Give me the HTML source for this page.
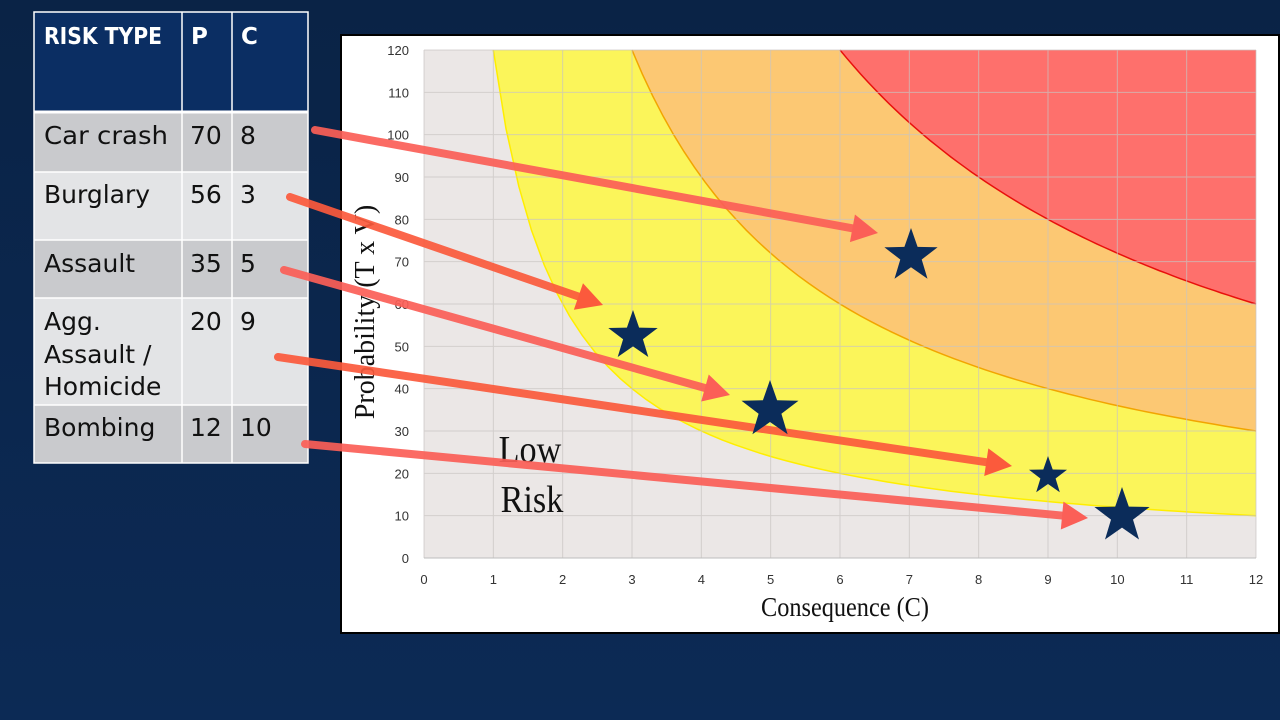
<!DOCTYPE html>
<html><head><meta charset="utf-8"><style>
html,body{margin:0;padding:0;width:1280px;height:720px;overflow:hidden;background:linear-gradient(180deg,#0a2346,#0c2a55);}
svg{display:block}
</style></head><body>
<svg id="s" width="1280" height="720" xmlns="http://www.w3.org/2000/svg">
<rect x="341" y="35" width="938" height="598" fill="#fff" stroke="#000" stroke-width="2"/>
<rect x="424" y="50" width="832" height="508" fill="#ebe7e6"/>
<g id="fills"></g>
<g id="grid" stroke="#c8c4c2" stroke-width="1" opacity="0.7"></g>
<line x1="424" y1="558" x2="1256" y2="558" stroke="#bdbdbd"/>
<g id="ticks" font-family="Liberation Sans, sans-serif" font-size="13" fill="#333"></g>
<text x="530" y="462" font-family="Liberation Serif, serif" font-size="38" fill="#111" text-anchor="middle" transform="translate(530,0) scale(0.9,1) translate(-530,0)">Low</text>
<text x="532" y="512" font-family="Liberation Serif, serif" font-size="38" fill="#111" text-anchor="middle" transform="translate(532,0) scale(0.9,1) translate(-532,0)">Risk</text>
<text x="845" y="616" font-family="Liberation Serif, serif" font-size="27" fill="#111" text-anchor="middle" transform="translate(845,0) scale(0.9,1) translate(-845,0)">Consequence (C)</text>
<text transform="translate(374,312) rotate(-90)" font-family="Liberation Serif, serif" font-size="28" fill="#111" text-anchor="middle">Probability (T x V)</text>

<g font-family="DejaVu Sans, sans-serif" font-size="25">
<rect x="34" y="12" width="274" height="100" fill="#0b2e63"/>
<rect x="34" y="112" width="274" height="60" fill="#c9cacd"/>
<rect x="34" y="172" width="274" height="68" fill="#e3e4e6"/>
<rect x="34" y="240" width="274" height="58" fill="#c9cacd"/>
<rect x="34" y="298" width="274" height="107" fill="#e3e4e6"/>
<rect x="34" y="405" width="274" height="58" fill="#c9cacd"/>
<g stroke="#fff" stroke-width="1.5" fill="none">
<rect x="34" y="12" width="274" height="451"/>
<line x1="182" y1="12" x2="182" y2="463"/><line x1="232" y1="12" x2="232" y2="463"/>
<line x1="34" y1="112" x2="308" y2="112" stroke-width="3"/>
<line x1="34" y1="172" x2="308" y2="172"/><line x1="34" y1="240" x2="308" y2="240"/>
<line x1="34" y1="298" x2="308" y2="298"/><line x1="34" y1="405" x2="308" y2="405"/>
</g>
<g fill="#fff" font-weight="bold" font-size="23"><text x="44" y="44" textLength="118" lengthAdjust="spacingAndGlyphs">RISK TYPE</text><text x="191" y="44">P</text><text x="241" y="44">C</text></g>
<g fill="#111">
<text x="44" y="144" textLength="124" lengthAdjust="spacingAndGlyphs">Car crash</text><text x="190" y="144">70</text><text x="240" y="144">8</text>
<text x="44" y="203">Burglary</text><text x="190" y="203">56</text><text x="240" y="203">3</text>
<text x="44" y="272">Assault</text><text x="190" y="272">35</text><text x="240" y="272">5</text>
<text x="44" y="330">Agg.</text><text x="44" y="363">Assault /</text><text x="44" y="395">Homicide</text>
<text x="190" y="330">20</text><text x="240" y="330">9</text>
<text x="44" y="436">Bombing</text><text x="190" y="436">12</text><text x="240" y="436">10</text>
</g></g>
<g id="arrows"></g>
<g id="stars" fill="#0b2c5a"></g>
</svg>
<script>
var ns="http://www.w3.org/2000/svg";
function X(c){return 424+c*69.333}function Y(p){return 558-p*4.2333}
function el(p,t,a){var e=document.createElementNS(ns,t);for(var k in a)e.setAttribute(k,a[k]);document.getElementById(p).appendChild(e);return e}
function curve(k){var x0=k/120,pts=[];for(var i=0;i<=60;i++){var c=x0+(12-x0)*i/60;pts.push(X(c).toFixed(1)+","+Y(k/c).toFixed(1))}return pts}
[[120,"#fbf55a","#ffee00"],[360,"#fcc873","#f2a500"],[720,"#fe706c","#e8100c"]].forEach(function(d){
 var p=curve(d[0]);el("fills","polygon",{points:p.join(" ")+" "+X(12)+","+Y(120),fill:d[1]});
 el("fills","polyline",{points:p.join(" "),fill:"none",stroke:d[2],"stroke-width":1.5});});
for(var i=0;i<=12;i++){el("grid","line",{x1:X(i),y1:50,x2:X(i),y2:558});var t=el("ticks","text",{x:X(i),y:584,"text-anchor":"middle"});t.textContent=i;}
for(var p=0;p<=120;p+=10){el("grid","line",{x1:424,y1:Y(p),x2:1256,y2:Y(p)});var t=el("ticks","text",{x:409,y:Y(p)+5,"text-anchor":"end"});t.textContent=p;}
[[315,130,878,233],[290,197,603,305],[284,270,730,395],[278,357,1012,466],[305,444,1088,518]].forEach(function(a,i){
 var col=i%2?"#fb5a3c":"#fb5f57";var dx=a[2]-a[0],dy=a[3]-a[1],L=Math.hypot(dx,dy),ux=dx/L,uy=dy/L,h=26,w=14;
 var bx=a[2]-ux*h,by=a[3]-uy*h;
 el("arrows","line",{x1:a[0],y1:a[1],x2:bx,y2:by,stroke:col,"stroke-width":8,"stroke-linecap":"round",opacity:0.92});
 el("arrows","polygon",{points:a[2]+","+a[3]+" "+(bx-uy*w)+","+(by+ux*w)+" "+(bx+uy*w)+","+(by-ux*w),fill:col});});
[[911,252,28],[633,332,26],[770,406,30],[1048,472,20],[1122,512,29]].forEach(function(s){
 var pts=[];for(var i=0;i<10;i++){var r=i%2?s[2]*0.4:s[2],a=-Math.PI/2+i*Math.PI/5;pts.push((s[0]+r*Math.cos(a)).toFixed(1)+","+(s[1]+4+r*Math.sin(a)).toFixed(1))}
 el("stars","polygon",{points:pts.join(" ")});});
</script>
</body></html>
